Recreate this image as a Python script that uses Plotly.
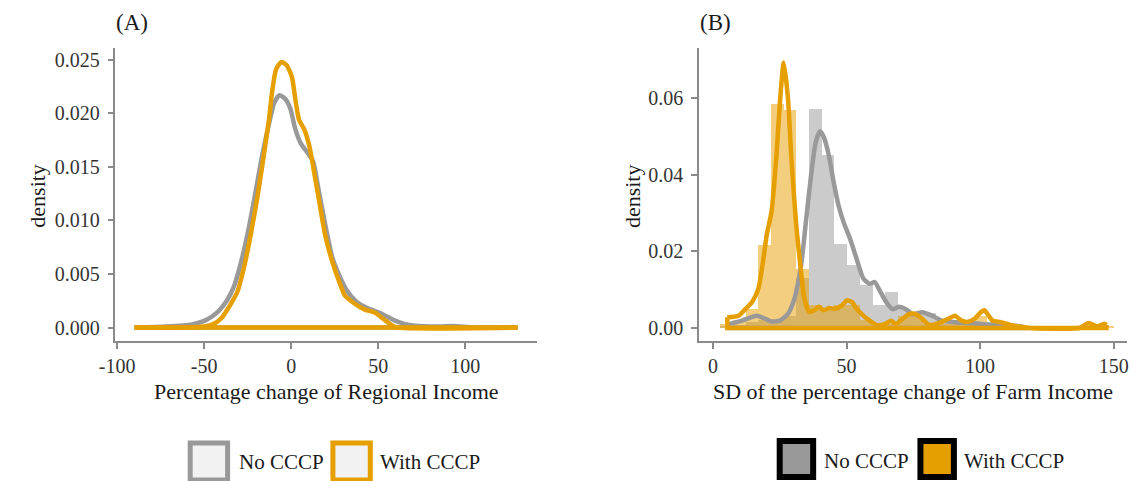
import plotly.graph_objects as go

# ---------------- Data ----------------
# Panel A: density of percentage change of Regional Income
a_no_x = [-90, -72, -57, -49, -42, -37, -33, -29, -25, -21, -17, -12.8, -9.7, -6.7, -3.7, -0.6,
          2.4, 5.5, 9.5, 12.6, 15.6, 19.7, 23.7, 27.8, 31.8, 37, 44, 52, 59, 64, 70, 85, 93, 105, 130]
a_no_y = [0, 0.0001, 0.0003, 0.0007, 0.0015, 0.0025, 0.0038, 0.0060, 0.0088, 0.0122, 0.0158, 0.0190,
          0.0210, 0.0217, 0.0214, 0.0205, 0.0185, 0.0172, 0.0163, 0.0155, 0.0130, 0.0095, 0.0065,
          0.0048, 0.0035, 0.0025, 0.0018, 0.0013, 0.0007, 0.0004, 0.0002, 0.0001, 0.00015, 0, 0]

a_with_x = [-90, -60, -50, -45, -40, -37, -34, -31, -27, -23, -19, -15, -12.8, -10.8, -8.7, -5.7,
            -2.6, 0.4, 2.4, 4.5, 7.5, 10.5, 13.6, 16.6, 19.7, 23.7, 27.8, 30.8, 35.9, 42, 48, 53, 58, 61, 130]
a_with_y = [0, 0, 0.0001, 0.0003, 0.0009, 0.0016, 0.0024, 0.0033, 0.0057, 0.0089, 0.0126, 0.0169,
            0.0194, 0.0222, 0.0241, 0.0248, 0.0245, 0.0234, 0.0213, 0.0194, 0.0185, 0.0169, 0.0141,
            0.0113, 0.0085, 0.0061, 0.0042, 0.0030, 0.0023, 0.0017, 0.0014, 0.0008, 0.0002, 0, 0]

# Panel B: histogram (density) of SD of percentage change of Farm Income
bin_width = 4.75
bin_centers = [5.125, 9.875, 14.625, 19.375, 24.125, 28.875, 33.625, 38.375, 43.125, 47.875,
               52.625, 57.375, 62.125, 66.875, 71.625, 76.375, 81.125, 85.875, 90.625, 95.375,
               100.125, 104.875, 109.625, 114.375, 119.125, 123.875, 128.625, 133.375, 138.125,
               142.875, 147.625]
hist_no = [0.0005, 0.0008, 0.0015, 0.002, 0.002, 0.003, 0.013, 0.0572, 0.045, 0.022, 0.0163,
           0.0111, 0.0059, 0.0094, 0.005, 0.004, 0.004, 0.002, 0.002, 0.0015, 0.001, 0.001,
           0.0008, 0.0004, 0, 0, 0, 0, 0, 0, 0]
hist_with = [0.0011, 0.002, 0.005, 0.0216, 0.0585, 0.0568, 0.0155, 0.006, 0.005, 0.006, 0.006,
             0.002, 0.001, 0.001, 0.003, 0.003, 0.001, 0.001, 0.002, 0.0015, 0.003, 0.001,
             0.0003, 0, 0, 0, 0, 0, 0.0005, 0.0007, 0.0005]

b_no_x = [6, 10.9, 16.4, 19.5, 21.9, 25, 28, 30.5, 33, 34.8, 36.6, 38.5, 40.1, 41.5, 43.4, 45.2,
          47, 48.9, 51.3, 53.8, 56.3, 58.7, 60.5, 62.4, 64.8, 67.3, 69.7, 72.2, 74.6, 78.3, 82,
          85.7, 90.6, 95.5, 101.6, 107.7, 113.8, 116.9]
b_no_y = [0.001, 0.0019, 0.0032, 0.0024, 0.0017, 0.0019, 0.0036, 0.0076, 0.0163, 0.0276, 0.039,
          0.0485, 0.0513, 0.0498, 0.045, 0.038, 0.032, 0.0276, 0.0233, 0.018, 0.0129, 0.0115,
          0.012, 0.0098, 0.0068, 0.0049, 0.0055, 0.0049, 0.0036, 0.0041, 0.0032, 0.0019, 0.0015,
          0.0013, 0.001, 0.0008, 0.0005, 0.0002]

b_with_x = [5.4, 9.7, 12.1, 14.6, 17, 18.9, 20.1, 21.9, 23.8, 25, 26.5, 28.1, 29.3, 31.1, 33, 34.2,
            36, 37.9, 39.7, 41.5, 43.4, 45.8, 48.3, 50.1, 52, 53.8, 56.3, 58.7, 61.2, 64.2, 66.7,
            68.5, 71, 73.4, 75.9, 78.3, 80.8, 83.2, 85.7, 88.1, 90.6, 93, 95.5, 97.9, 100.4, 101.6,
            102.8, 104.7, 107.7, 111.4, 115.1, 118.7, 137, 140.5, 143.9, 146.6, 147.3]
b_with_y = [0.0028, 0.0032, 0.0049, 0.0067, 0.0102, 0.018, 0.0241, 0.0302, 0.045, 0.058, 0.0692,
            0.0598, 0.045, 0.0276, 0.0146, 0.0076, 0.0042, 0.0046, 0.0055, 0.0046, 0.0052, 0.005,
            0.0059, 0.0072, 0.0068, 0.005, 0.0032, 0.0019, 0.0008, 0.001, 0.0019, 0.001, 0.0024,
            0.0036, 0.0036, 0.0024, 0.0008, 0.001, 0.0016, 0.0024, 0.0032, 0.0019, 0.0016, 0.0024,
            0.0042, 0.0046, 0.0036, 0.0019, 0.0015, 0.0008, 0.0003, 0, 0, 0.0013, 0.0004, 0.0011, 0.0008]

groups = ["No CCCP", "With CCCP"]
x_ticks_a = [-100, -50, 0, 50, 100]
x_ticklabels_a = ["-100", "-50", "0", "50", "100"]
y_ticks_a = [0.000, 0.005, 0.010, 0.015, 0.020, 0.025]
x_ticks_b = [0, 50, 100, 150]
y_ticks_b = [0.00, 0.02, 0.04, 0.06]

# ---------------- Styles ----------------
GREY = "#999999"
ORANGE = "#E69F00"
FONT = "Liberation Serif"
AXIS_COL = "#8a8a8a"
TICK_COL = "#333333"
TEXT_COL = "#1a1a1a"
LW = 4.5

fig = go.Figure()


def add_density(xs, ys, col, name, xa, ya):
    # smooth outline
    fig.add_trace(go.Scatter(x=xs, y=ys, mode="lines", name=name, showlegend=False,
                             line=dict(color=col, width=LW, shape="spline", smoothing=0.6),
                             xaxis=xa, yaxis=ya))
    # closing along the zero baseline (like geom_density)
    fig.add_trace(go.Scatter(x=[xs[-1], xs[-1], xs[0], xs[0]], y=[ys[-1], 0, 0, ys[0]],
                             mode="lines", showlegend=False, hoverinfo="skip",
                             line=dict(color=col, width=LW), xaxis=xa, yaxis=ya))


# Panel A
add_density(a_no_x, a_no_y, GREY, groups[0], "x", "y")
add_density(a_with_x, a_with_y, ORANGE, groups[1], "x", "y")

# Panel B histograms
fig.add_trace(go.Bar(x=bin_centers, y=hist_no, width=bin_width, marker=dict(color=GREY, line=dict(width=0)),
                     opacity=0.5, showlegend=False, xaxis="x2", yaxis="y2", name=groups[0]))
fig.add_trace(go.Bar(x=bin_centers, y=hist_with, width=bin_width, marker=dict(color=ORANGE, line=dict(width=0)),
                     opacity=0.5, showlegend=False, xaxis="x2", yaxis="y2", name=groups[1]))
# Panel B densities
add_density(b_no_x, b_no_y, GREY, groups[0], "x2", "y2")
add_density(b_with_x, b_with_y, ORANGE, groups[1], "x2", "y2")

W, H = 1134, 481


def px_x(p):
    return p / W


def px_y(p):
    return 1 - p / H


axis_common = dict(showline=True, linecolor=AXIS_COL, linewidth=1.5, ticks="outside", ticklen=6,
                   tickwidth=1.5, tickcolor=AXIS_COL, showgrid=False, zeroline=False,
                   tickfont=dict(family=FONT, size=20, color=TICK_COL))

fig.update_layout(
    width=W, height=H, margin=dict(l=0, r=0, t=0, b=0),
    paper_bgcolor="white", plot_bgcolor="white", barmode="overlay", bargap=0,
    xaxis=dict(domain=[px_x(100), px_x(528)], range=[-101, 141], tickvals=x_ticks_a,
               ticktext=x_ticklabels_a, anchor="y", **axis_common),
    yaxis=dict(domain=[px_y(341), px_y(48)], range=[-0.00125, 0.0261], tickvals=y_ticks_a,
               tickformat=".3f", anchor="x", ticklabelstandoff=4, **axis_common),
    xaxis2=dict(domain=[px_x(693), px_x(1128)], range=[-5.2, 155], tickvals=x_ticks_b,
                anchor="y2", **axis_common),
    yaxis2=dict(domain=[px_y(341), px_y(48)], range=[-0.0034, 0.0730], tickvals=y_ticks_b,
                tickformat=".2f", anchor="x2", ticklabelstandoff=4, **axis_common),
    showlegend=False,
)

ann = []


def text(x, y, s, size=21, xanchor="center", angle=0, color=TEXT_COL):
    ann.append(dict(x=px_x(x), y=px_y(y), xref="paper", yref="paper", text=s, showarrow=False,
                    xanchor=xanchor, yanchor="middle", textangle=angle, borderpad=0,
                    font=dict(family=FONT, size=size, color=color)))


text(100, 22, "(A)", size=23, xanchor="left")
text(693, 22, "(B)", size=23, xanchor="left")
text(314, 391, "Percentage change of Regional Income", size=22)
text(910, 391, "SD of the percentage change of Farm Income", size=22)
text(20, 196, "density", size=22, angle=-90)
text(625, 196, "density", size=22, angle=-90)

# Legends (drawn as keys + labels)
shapes = []


def key(x0, x1, y0, y1, fill, line, lw):
    shapes.append(dict(type="rect", xref="paper", yref="paper", x0=px_x(x0), x1=px_x(x1),
                       y0=px_y(y1), y1=px_y(y0), fillcolor=fill, line=dict(color=line, width=lw)))


key(176, 214, 443, 480, "#f2f2f2", GREY, 5)
text(225, 462, groups[0], xanchor="left")
key(321, 359, 443, 480, "#f2f2f2", ORANGE, 5)
text(368, 462, groups[1], xanchor="left")

key(775, 809, 441, 477, "#999999", "black", 6)
text(819, 461, groups[0], xanchor="left")
key(918, 952, 441, 477, ORANGE, "black", 6)
text(961, 461, groups[1], xanchor="left")

fig.update_layout(annotations=ann, shapes=shapes)
fig.write_html("out.html",
               post_script="document.body.style.margin='0';document.body.style.overflow='hidden';")
